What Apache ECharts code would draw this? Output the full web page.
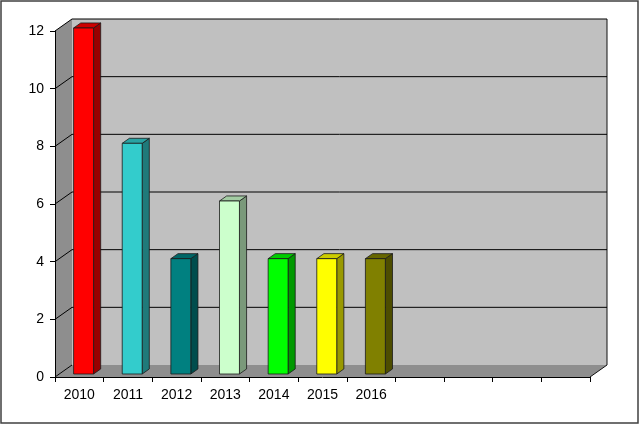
<!DOCTYPE html>
<html>
<head>
<meta charset="UTF-8">
<title>3D columns</title>
<script src="https://cdn.jsdelivr.net/npm/echarts@6.0.0/dist/echarts.min.js"></script>
<style>
  html, body { margin: 0; padding: 0; background: #fff; }
</style>
</head>
<body>
<div id="main" style="width: 640px; height: 425px;"></div>
<script type="text/javascript">
// data
var categories = ['2010', '2011', '2012', '2013', '2014', '2015', '2016', '', '', '', ''];
var values = [12, 8, 4, 6, 4, 4, 4];
var barColors = ['#ff0000', '#33cccc', '#008080', '#ccffcc', '#00ff00', '#ffff00', '#808000'];
var yTicks = [0, 2, 4, 6, 8, 10, 12];

// depth of the 3d box (back wall offset) in px
var DX = 17, DY = -12;

var myChart = echarts.init(document.getElementById('main'));

// darken a hex colour by factor f
function shade(hex, f) {
	var n = parseInt(hex.slice(1), 16);
	var r = Math.round(((n >> 16) & 255) * f);
	var g = Math.round(((n >> 8) & 255) * f);
	var b = Math.round((n & 255) * f);
	return 'rgb(' + r + ',' + g + ',' + b + ')';
}

// back wall, left wall and floor
function renderWalls(params, api) {
	var cs = params.coordSys;
	var x0 = cs.x, x1 = cs.x + cs.width, yT = cs.y, yB = cs.y + cs.height;
	return {
		type: 'group',
		children: [
			{ type: 'polygon', shape: { points: [[x0 + DX, yT + DY], [x1 + DX, yT + DY], [x1 + DX, yB + DY], [x0 + DX, yB + DY]] },
			  style: { fill: '#c0c0c0' } },
			{ type: 'polygon', shape: { points: [[x0, yT], [x0 + DX, yT + DY], [x0 + DX, yB + DY], [x0, yB]] },
			  style: { fill: '#8e8e8e' } },
			{ type: 'polygon', shape: { points: [[x0, yB], [x0 + DX, yB + DY], [x1 + DX, yB + DY], [x1, yB]] },
			  style: { fill: '#8e8e8e' } },
			// right edge of the back wall + floor
			{ type: 'polyline', shape: { points: [[x1 + DX, yT + DY], [x1 + DX, yB + DY], [x1, yB]] },
			  style: { stroke: '#111', lineWidth: 1, fill: null } }
		]
	};
}

// grid lines on the side wall and back wall
function renderGrid(params, api) {
	var cs = params.coordSys;
	var y = api.coord([0, api.value(1)])[1];
	var x0 = cs.x, x1 = cs.x + cs.width;
	var children = [
		{ type: 'line', shape: { x1: x0, y1: y, x2: x0 + DX, y2: y + DY }, style: { stroke: '#000', lineWidth: 1 } }
	];
	if (api.value(1) > 0) {
		children.push({ type: 'line', shape: { x1: x0 + DX, y1: y + DY, x2: x1 + DX, y2: y + DY }, style: { stroke: '#000', lineWidth: 1 } });
	}
	return { type: 'group', children: children };
}

// 3d column: front face, top face, right side face
function renderBar(params, api) {
	var i = api.value(0), v = api.value(1);
	var band = api.size([1, 0])[0];
	var w = band * 0.41;
	var top = api.coord([i, v]);
	var base = api.coord([i, 0]);
	var ox = DX * 0.25, oy = DY * 0.25;   // bars sit a bit into the box
	var bx = DX * 0.42, by = DY * 0.42;   // bar depth
	var L = top[0] + ox - w / 2, R = L + w;
	var T = top[1] + oy, B = base[1] + oy;
	var c = barColors[params.dataIndex];
	var line = { stroke: '#1a1a1a', lineWidth: 0.8 };
	return {
		type: 'group',
		children: [
			{ type: 'polygon', shape: { points: [[R, T], [R + bx, T + by], [R + bx, B + by], [R, B]] },
			  style: Object.assign({ fill: shade(c, 0.6) }, line) },
			{ type: 'polygon', shape: { points: [[L, T], [R, T], [R + bx, T + by], [L + bx, T + by]] },
			  style: Object.assign({ fill: shade(c, 0.8) }, line) },
			{ type: 'rect', shape: { x: L, y: T, width: w, height: B - T },
			  style: Object.assign({ fill: c }, line) }
		]
	};
}

var option = {
	animation: false,
	backgroundColor: '#fff',
	textStyle: { fontFamily: 'Liberation Sans, Arial, sans-serif' },
	graphic: [{
		type: 'rect', z: 100,
		shape: { x: 1, y: 1, width: 637, height: 422 },
		style: { fill: null, stroke: '#404040', lineWidth: 1.5 }
	}],
	grid: { left: 55, right: 50, top: 31, bottom: 48 },
	xAxis: {
		type: 'category',
		data: categories,
		z: 10,
		axisLine: { lineStyle: { color: '#000', width: 1 } },
		axisTick: { show: true, interval: 0, length: 5, lineStyle: { color: '#000' } },
		axisLabel: { interval: 0, color: '#000', fontSize: 14, margin: 11 },
		splitLine: { show: false }
	},
	yAxis: {
		type: 'value',
		min: 0,
		max: 12,
		interval: 2,
		z: 10,
		axisLine: { show: true, lineStyle: { color: '#000', width: 1 } },
		axisTick: { show: true, length: 5, lineStyle: { color: '#000' } },
		axisLabel: { color: '#000', fontSize: 14, margin: 11 },
		splitLine: { show: false }
	},
	series: [{
		type: 'custom',
		z: 1,
		renderItem: renderWalls,
		encode: { x: 0, y: 1 },
		data: [[0, 0]],
		silent: true
	}, {
		type: 'custom',
		z: 2,
		renderItem: renderGrid,
		encode: { x: 0, y: 1 },
		data: yTicks.map(function (v) { return [0, v]; }),
		silent: true
	}, {
		type: 'custom',
		z: 3,
		renderItem: renderBar,
		encode: { x: 0, y: 1 },
		data: values.map(function (v, i) { return [i, v]; })
	}]
};
myChart.setOption(option);
</script>
</body>
</html>
